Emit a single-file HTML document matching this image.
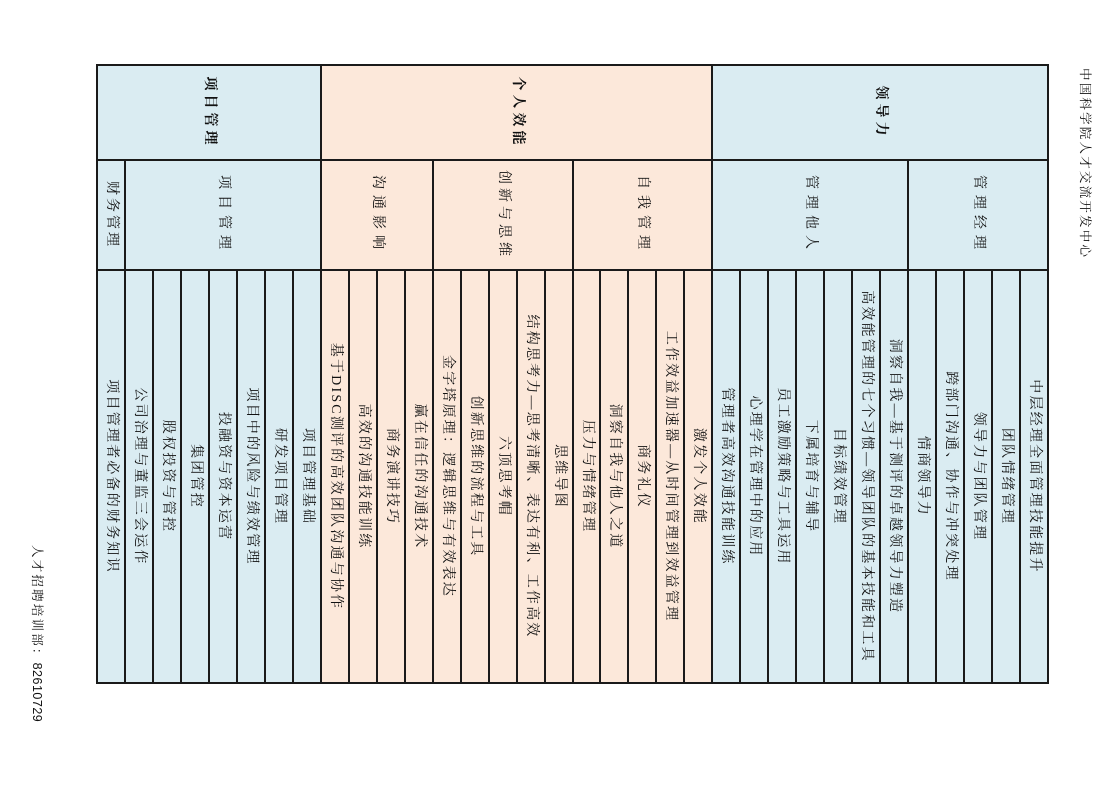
<!DOCTYPE html>
<html><head><meta charset="utf-8">
<style>
html,body{margin:0;padding:0;background:#fff;width:1117px;height:788px;overflow:hidden;position:relative;}
.rot{position:absolute;transform-origin:0 0;transform:rotate(90deg);font-family:"Liberation Serif","Noto Serif CJK SC",serif;color:#111;}
table{border-collapse:collapse;width:618px;height:953px;table-layout:fixed;}
td{border:2px solid #1a1a1a;padding:0;text-align:center;vertical-align:middle;font-size:14px;letter-spacing:2.2px;white-space:nowrap;height:20px;line-height:18px;}
.b{background:#daecf2;}
.p{background:#fce8da;}
.cat{font-weight:bold;font-size:14px;letter-spacing:4px;}
.sub{letter-spacing:6px;}
</style></head><body>
<div class="rot" style="left:1094px;top:68px;font-size:12.5px;letter-spacing:2.2px;white-space:nowrap;line-height:18px;">中国科学院人才交流开发中心</div>
<div class="rot" style="left:46px;top:545px;font-size:12.5px;letter-spacing:2.2px;white-space:nowrap;line-height:18px;">人才招聘培训部：<span style="font-family:'Liberation Sans',sans-serif;letter-spacing:0.5px">82610729</span></div>
<div class="rot" style="left:1049px;top:64px;">
<table>
<colgroup><col style="width:95px"><col style="width:110px"><col style="width:413px"></colgroup>
<tr class="b"><td class="cat" rowspan="12">领导力</td><td class="sub" rowspan="5">管理经理</td><td>中层经理全面管理技能提升</td></tr>
<tr class="b"><td>团队情绪管理</td></tr>
<tr class="b"><td>领导力与团队管理</td></tr>
<tr class="b"><td>跨部门沟通、协作与冲突处理</td></tr>
<tr class="b"><td>情商领导力</td></tr>
<tr class="b"><td class="sub" rowspan="7">管理他人</td><td>洞察自我—基于测评的卓越领导力塑造</td></tr>
<tr class="b"><td>高效能管理的七个习惯—领导团队的基本技能和工具</td></tr>
<tr class="b"><td>目标绩效管理</td></tr>
<tr class="b"><td>下属培育与辅导</td></tr>
<tr class="b"><td>员工激励策略与工具运用</td></tr>
<tr class="b"><td>心理学在管理中的应用</td></tr>
<tr class="b"><td>管理者高效沟通技能训练</td></tr>
<tr class="p"><td class="cat" rowspan="14">个人效能</td><td class="sub" rowspan="5">自我管理</td><td>激发个人效能</td></tr>
<tr class="p"><td>工作效益加速器—从时间管理到效益管理</td></tr>
<tr class="p"><td>商务礼仪</td></tr>
<tr class="p"><td>洞察自我与他人之道</td></tr>
<tr class="p"><td>压力与情绪管理</td></tr>
<tr class="p"><td class="sub" rowspan="5" style="letter-spacing:4px">创新与思维</td><td>思维导图</td></tr>
<tr class="p"><td>结构思考力—思考清晰、表达有利、工作高效</td></tr>
<tr class="p"><td>六顶思考帽</td></tr>
<tr class="p"><td>创新思维的流程与工具</td></tr>
<tr class="p"><td>金字塔原理：逻辑思维与有效表达</td></tr>
<tr class="p"><td class="sub" rowspan="4">沟通影响</td><td>赢在信任的沟通技术</td></tr>
<tr class="p"><td>商务演讲技巧</td></tr>
<tr class="p"><td>高效的沟通技能训练</td></tr>
<tr class="p"><td>基于DISC测评的高效团队沟通与协作</td></tr>
<tr class="b"><td class="cat" rowspan="8">项目管理</td><td class="sub" rowspan="7">项目管理</td><td>项目管理基础</td></tr>
<tr class="b"><td>研发项目管理</td></tr>
<tr class="b"><td>项目中的风险与绩效管理</td></tr>
<tr class="b"><td>投融资与资本运营</td></tr>
<tr class="b"><td>集团管控</td></tr>
<tr class="b"><td>股权投资与管控</td></tr>
<tr class="b"><td>公司治理与董监三会运作</td></tr>
<tr class="b"><td class="sub" style="letter-spacing:3px">财务管理</td><td>项目管理者必备的财务知识</td></tr>
</table>
</div>
</body></html>
